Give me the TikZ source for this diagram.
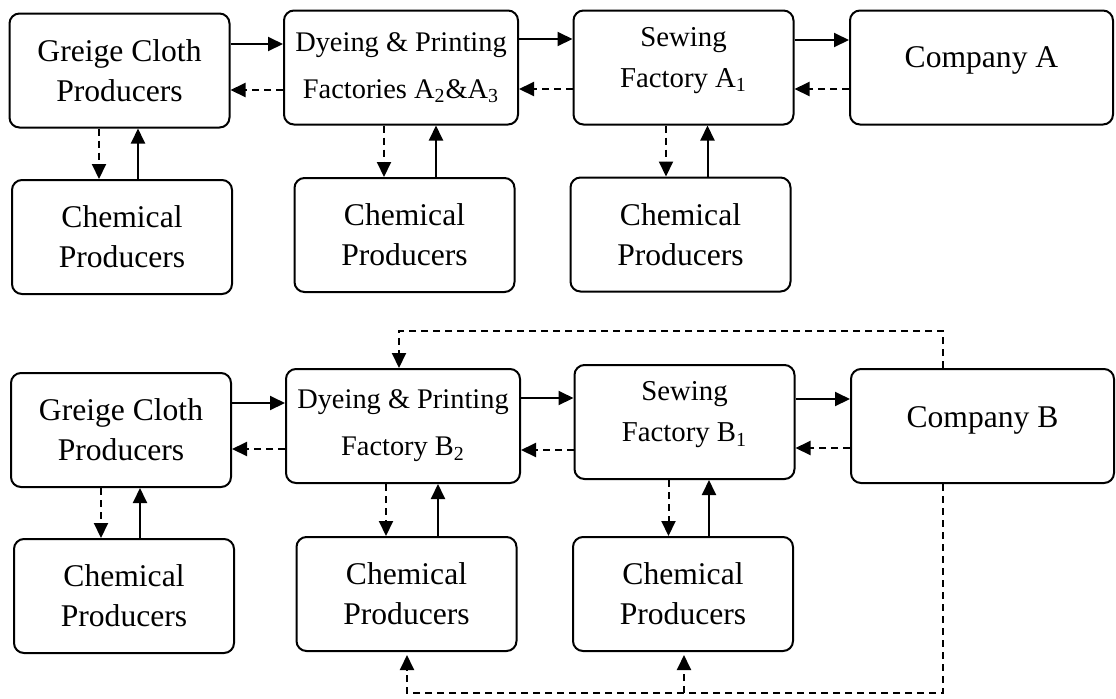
\documentclass[tikz,border=0pt]{standalone}
\usepackage{fontspec}
\setmainfont{Liberation Serif}
\usetikzlibrary{arrows.meta}
\tikzset{
  firm/.style={draw, line width=1pt, rounded corners=5pt, align=center, inner sep=0pt,
    minimum width=110pt, minimum height=57pt, font=\fontsize{15.8}{20}\selectfont},
  dyer/.style={firm, minimum width=117pt, font=\fontsize{14.2}{23.5}\selectfont},
  client/.style={firm, minimum width=131.5pt},
  sewtext/.style={align=center, inner sep=0pt, font=\fontsize{14.4}{20.5}\selectfont},
  clienttext/.style={inner sep=0pt, font=\fontsize{15.8}{20}\selectfont},
  goods/.style={line width=1pt, -{Triangle[length=7.5pt,width=7pt]}},
  orders/.style={goods, dash pattern=on 3.5pt off 2.5pt},
}
\begin{document}
\begin{tikzpicture}[x=0.5pt,y=-0.5pt]
\useasboundingbox (0,0) rectangle (1116,698);
% Chain of company A
\node[firm] (gA) at (119.5,70.5) {Greige Cloth\\Producers};
\node[dyer] (dA) at (401,67.5) {Dyeing \& Printing\\Factories A\textsubscript{2}\&A\textsubscript{3}};
\node[firm] (sA) at (683.5,67.5) {};
\node[sewtext] (sAtxt) at ([yshift=3.5pt]sA.center) {Sewing\\Factory A\textsubscript{1}};
\node[client] (cA) at (981.5,67.5) {};
\node[clienttext] (cAtxt) at ([yshift=3.5pt]cA.center) {Company A};
\node[firm] (chA1) at (122,237) {Chemical\\Producers};
\node[firm] (chA2) at (404.5,235) {Chemical\\Producers};
\node[firm] (chA3) at (680.5,234.5) {Chemical\\Producers};
% Chain of company B
\node[firm] (gB) at (121,430) {Greige Cloth\\Producers};
\node[dyer] (dB) at (403,426) {Dyeing \& Printing\\Factory B\textsubscript{2}};
\node[firm] (sB) at (684.5,422) {};
\node[sewtext] (sBtxt) at ([yshift=3.5pt]sB.center) {Sewing\\Factory B\textsubscript{1}};
\node[client] (cB) at (982.5,426) {};
\node[clienttext] (cBtxt) at ([yshift=3pt]cB.center) {Company B};
\node[firm] (chB1) at (124,596) {Chemical\\Producers};
\node[firm] (chB2) at (406.5,594) {Chemical\\Producers};
\node[firm] (chB3) at (683,594) {Chemical\\Producers};
% goods forward, orders back
\foreach \a/\b/\ys/\yd in {gA/dA/44/90, dA/sA/39/89, sA/cA/40/89, gB/dB/403/449, dB/sB/398/450, sB/cB/399/448}{
  \draw[goods] (\a.east |- 0,\ys) -- (\b.west |- 0,\ys);
  \draw[orders] (\b.west |- 0,\yd) -- (\a.east |- 0,\yd);
}
% chemical suppliers
\foreach \f/\c/\dn/\up in {gA/chA1/-10.25pt/9.25pt, dA/chA2/-8.5pt/17.5pt, sA/chA3/-8.75pt/12pt,
                           gB/chB1/-10pt/9.5pt, dB/chB2/-8.5pt/17.5pt, sB/chB3/-8pt/12.25pt}{
  \draw[orders] ([xshift=\dn]\f.south) -- ([xshift=\dn]\f.south |- \c.north);
  \draw[goods] ([xshift=\up]\f.south |- \c.north) -- ([xshift=\up]\f.south);
}
% company B orders direct
\coordinate (fbT) at (943,331);
\coordinate (fbT2) at (399,331);
\draw[orders] (cB.north -| fbT) -- (fbT) -- (fbT2) -- (dB.north -| fbT2);
\coordinate (fbB) at (943,693);
\coordinate (fbB2) at (407,693);
\coordinate (fbB3) at (684,693);
\draw[orders] (cB.south -| fbB) -- (fbB) -- (fbB2) -- ([yshift=-1.5pt]chB2.south -| fbB2);
\draw[orders] (fbB3) -- ([yshift=-1.5pt]chB3.south -| fbB3);
\end{tikzpicture}
\end{document}
